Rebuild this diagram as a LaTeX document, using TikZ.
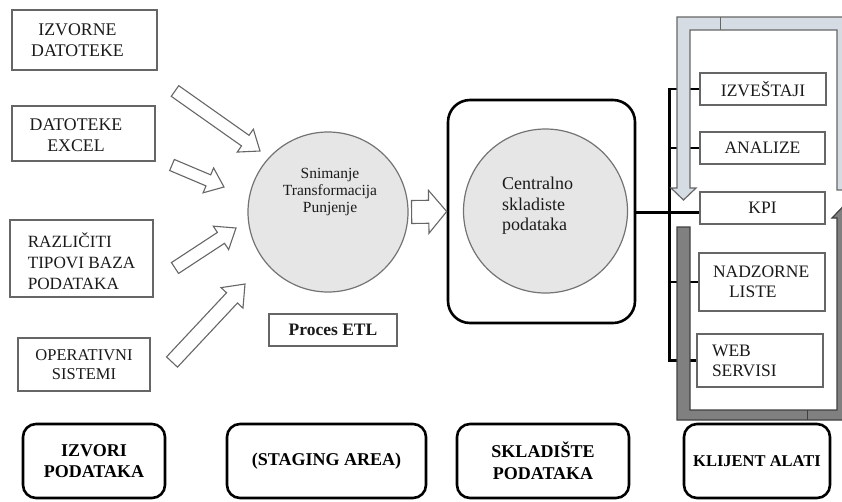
\documentclass[tikz,border=0pt]{standalone}
\usepackage{fontspec}
\setmainfont{Liberation Serif}
\usetikzlibrary{calc}

\definecolor{bandblue}{HTML}{D6DCE4}
\definecolor{banddark}{HTML}{808080}
\definecolor{discfill}{HTML}{E6E6E6}
\definecolor{boxline}{HTML}{666666}
\definecolor{ink}{HTML}{1A1A1A}

\pgfdeclarelayer{wires}
\pgfdeclarelayer{bands}
\pgfsetlayers{wires,bands,main}

% hollow block arrow: [style] {tail} {tip} {shaft half width} {head half width} {head length}
\newcommand\hollowarrow[6][]{%
  \coordinate (ha-base) at ($(#3)!#6!(#2)$);
  \draw[blockarr,#1] ($(#2)!#4!90:(#3)$) -- ($(ha-base)!#4!90:(#3)$)
    -- ($(ha-base)!#5!90:(#3)$) -- (#3) -- ($(ha-base)!#5!-90:(#3)$)
    -- ($(ha-base)!#4!-90:(#3)$) -- ($(#2)!#4!-90:(#3)$) -- cycle;}

\begin{document}
\begin{tikzpicture}[x=1pt,y=-1pt,
  srcbox/.style={draw=boxline, line width=1.4pt, fill=white, inner sep=0pt},
  srctext/.style={font=\fontsize{17.8}{21}\selectfont, text=ink, align=center, inner sep=0pt},
  disc/.style={circle, draw=black!55, line width=1.2pt, fill=discfill, inner sep=0pt},
  blockarr/.style={draw=black!60, line width=1.1pt, fill=white, line join=miter},
  toolbox/.style={draw=boxline, line width=1.4pt, fill=white, inner sep=0pt,
    font=\fontsize{17.5}{20}\selectfont, text=ink},
  groupbox/.style={draw=black, line width=2.6pt, rounded corners=13pt, inner sep=0pt,
    minimum height=74pt, align=center, text=black,
    font=\bfseries\fontsize{18}{21.5}\selectfont},
  bus/.style={draw=black, line width=3pt},
  tick/.style={draw=black, line width=2.2pt},
  lband/.style={draw=black!60, line width=1.2pt, fill=bandblue, line join=miter},
  dband/.style={draw=black!75, line width=1.2pt, fill=banddark, line join=miter}]

\useasboundingbox (0,0) rectangle (842,501);
\clip (0,0) rectangle (842,501);

% ---- data sources ----
\node[srcbox, minimum width=145pt, minimum height=60pt] (s1) at (84.5,40) {};
\node[srctext] (s1t) at (77.5,40) {IZVORNE\\DATOTEKE};
\node[srcbox, minimum width=143pt, minimum height=55pt] (s2) at (83.5,133.5) {};
\node[srctext] (s2t) at (76,135) {DATOTEKE\\EXCEL};
\node[srcbox, minimum width=143pt, minimum height=77pt] (s3) at (81.5,258.5) {};
\node[srctext, align=left, font=\fontsize{17.2}{21}\selectfont] (s3t) at (81.5,261) {RAZLIČITI\\TIPOVI BAZA\\PODATAKA};
\node[srcbox, minimum width=132pt, minimum height=53pt] (s4) at (84,364.5) {};
\node[srctext, font=\fontsize{16.5}{19}\selectfont] (s4t) at (84,365) {OPERATIVNI\\SISTEMI};

% ---- ETL process ----
\node[disc, minimum size=160pt] (etl) at (328,212) {};
\node[font=\fontsize{15.5}{17}\selectfont, align=center, text=ink, inner sep=0pt] (etlt) at (330,192)
  {Snimanje\\Transformacija\\Punjenje};
\node[draw=boxline, line width=1.4pt, minimum width=128pt, minimum height=32pt, inner sep=0pt,
  font=\bfseries\fontsize{17.5}{20}\selectfont, text=ink] (etllabel) at (333,330) {Proces ETL};

% arrows feeding the ETL process
\coordinate (a1t) at (175,91);  \coordinate (a1h) at (260,151);
\coordinate (a2t) at (172,165); \coordinate (a2h) at (224,187);
\coordinate (a3t) at (175,268); \coordinate (a3h) at (236,228);
\coordinate (a4t) at (172,362); \coordinate (a4h) at (245,284);
\hollowarrow{a1t}{a1h}{6.5pt}{14pt}{18pt}
\hollowarrow{a2t}{a2h}{6pt}{13.5pt}{17pt}
\hollowarrow{a3t}{a3h}{6.5pt}{14pt}{18pt}
\hollowarrow{a4t}{a4h}{7.5pt}{15pt}{19pt}

% ---- data warehouse ----
\node[draw=black, line width=2.6pt, rounded corners=22pt, minimum width=187pt,
  minimum height=223pt, inner sep=0pt] (wh) at (541.5,211.5) {};
\node[disc, minimum size=164pt] (dw) at (545.5,211) {};
\node[font=\fontsize{18}{20.5}\selectfont, align=left, text=ink, inner sep=0pt, anchor=west]
  (dwt) at (502,206) {Centralno\\skladiste\\podataka};

\coordinate (etlout) at ($(etl.east)+(3,0)$);
\hollowarrow{etlout}{wh.west}{11.5pt}{21.5pt}{18pt}

% ---- client tools ----
\node[toolbox, minimum width=126pt, minimum height=32pt] (c1) at (763,89) {IZVEŠTAJI};
\node[toolbox, minimum width=125pt, minimum height=32pt] (c2) at (762.5,148) {ANALIZE};
\node[toolbox, minimum width=125pt, minimum height=32pt] (c3) at (762.5,208) {KPI};
\node[toolbox, minimum height=58pt, text width=98pt, inner xsep=14pt, align=left]
  (c4) at (762,282) {NADZORNE\\\hspace*{16pt}LISTE};
\node[toolbox, minimum height=53pt, text width=96pt, inner xsep=15pt, align=left]
  (c5) at (760,360.5) {WEB\\SERVISI};

\coordinate (hub) at (669,212);
\begin{pgfonlayer}{wires}
  \draw[bus] (wh.east |- hub) -- (c3.west |- hub);
  \draw[bus] ($(c1.west -| hub)+(0,-1.2)$) -- ($(c5.west -| hub)+(0,1.2)$);
  \foreach \c in {c1,c2,c4,c5}
    \draw[tick] (\c.west -| hub) -- (\c.west);
\end{pgfonlayer}

\begin{pgfonlayer}{bands}
  % light band bending down into the tool column
  \draw[lband] (850,17) -- (677,17) -- (677,188) -- (671,188) -- (683.5,200) -- (696,188)
    -- (690,188) -- (690,30) -- (837,30) -- (837,190) -- (850,190) -- cycle;
  \draw[black!60, line width=1pt] (720,17) -- (720,30);
  % dark band rising back up on the right
  \draw[dband] (677,227) -- (690,227) -- (690,410) -- (837,410) -- (837,218) -- (832,218)
    -- (843.5,206) -- (855,218) -- (850,218) -- (850,420) -- (677,420) -- cycle;
  \draw[black!75, line width=1pt] (807,410) -- (807,420);
\end{pgfonlayer}

% ---- layer captions ----
\node[groupbox, minimum width=142pt] (g1) at (94,461) {IZVORI\\PODATAKA};
\node[groupbox, minimum width=199pt] (g2) at (326.5,461) {(STAGING AREA)};
\node[groupbox, minimum width=172pt] (g3) at (543,461) {SKLADIŠTE\\PODATAKA};
\node[groupbox, minimum width=146pt, font=\bfseries\fontsize{16.5}{20}\selectfont] (g4) at (757,461) {KLIJENT ALATI};

\end{tikzpicture}
\end{document}
